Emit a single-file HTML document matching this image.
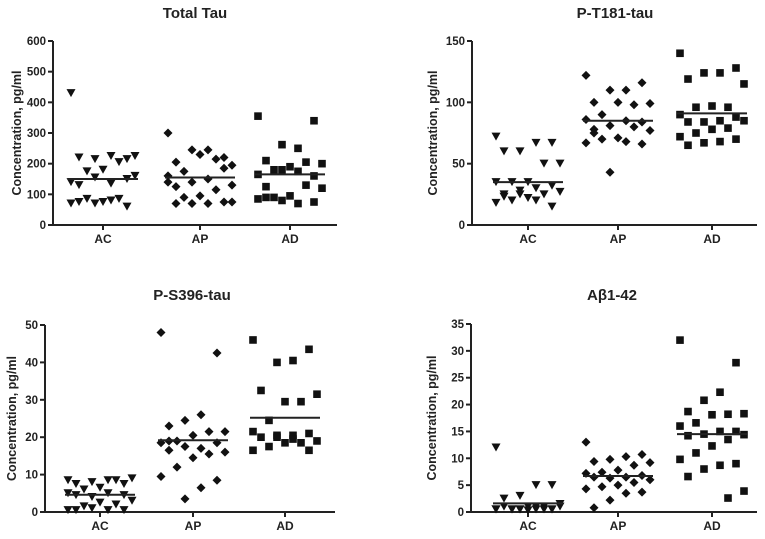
<!DOCTYPE html>
<html><head><meta charset="utf-8"><style>
html,body{margin:0;padding:0;background:#fff;}
svg{display:block;font-family:"Liberation Sans",Arial,sans-serif;}
</style></head><body>
<svg id="c" width="765" height="539"></svg>
<script>
const categories=["AC","AP","AD"];
const titles=["Total Tau","P-T181-tau","P-S396-tau","Aβ1-42"];
const ticks0=[0,100,200,300,400,500,600];
const ticks1=[0,50,100,150];
const ticks2=[0,10,20,30,40,50];
const ticks3=[0,5,10,15,20,25,30,35];
const tt_AC=[430,215,225,215,220,225,205,180,175,140,150,135,155,130,160,85,75,85,70,60,80,70,75];
const tt_AP=[300,220,245,245,205,195,215,230,175,160,185,150,140,125,130,115,95,90,140,75,70,70,70,75];
const tt_AD=[355,340,250,262,210,200,205,190,180,165,160,175,180,125,120,130,95,90,85,75,70,80,90];
const pt_AC=[72,67,67,60,60,50,50,35,35,35,32,30,28,25,27,25,22,20,18,15,20,25,23];
const pt_AP=[122,116,110,110,100,99,98,100,90,86,84,85,81,78,77,80,71,70,67,66,68,43,75];
const pt_AD=[140,128,124,124,119,115,96,97,96,90,88,85,84,84,85,79,78,75,72,70,68,67,65];
const ps_AC=[8.5,7.5,8.5,8,7.5,9,8.5,6.5,6,5,4.5,5,4,4.5,3,2,2.5,1.5,0.5,0.5,0.5,1,0.5];
const ps_AP=[48,42.5,26,24.5,23,21.5,21.5,20.5,19,18.5,18.5,17,17.5,16.5,16,15.5,14.5,12,9.5,8.5,6.5,3.5,19];
const ps_AD=[46,43.5,40.5,40,32.5,31.5,29.5,29.5,24.5,21.5,21,20.5,20,20,19,18.5,18.5,17.5,16.5,16.5,19.5,20.5];
const ab_AC=[12,5,5,3,2.5,1.5,1,1,0.5,0.5,0.5,0.5,0.5,1,1,0.5,0.3,0.5,0.5,0.5,1,0.5];
const ab_AP=[13,10.7,10.3,9.8,9.4,9.2,8.7,7.8,7.4,7.2,6.8,6.5,6.3,6.5,6,5.5,5,4.7,4.3,3.7,3.5,2.2,0.8];
const ab_AD=[32,27.8,22.3,20.8,18.7,18.3,18.2,18.1,16.6,16,15,15,14.5,14.2,14.4,13.5,12.3,11,9.8,9,8.7,8,6.6,3.9,2.6];
const means0=[150,155,165];
const means1=[35,85,91];
const means2=[4.6,19.2,25.2];
const means3=[1.6,6.7,14.5];

const panels=[
 {ax:53,x1:337,y0:225,yt:41,max:600,ticks:ticks0,cx:[103,200,290],title:titles[0],tx:195,ty:18,yl:21,data:[tt_AC,tt_AP,tt_AD],means:means0},
 {ax:472,x1:757,y0:225,yt:41,max:150,ticks:ticks1,cx:[528,618,712],title:titles[1],tx:615,ty:18,yl:437,data:[pt_AC,pt_AP,pt_AD],means:means1},
 {ax:45,x1:335,y0:512,yt:325,max:50,ticks:ticks2,cx:[100,193,285],title:titles[2],tx:192,ty:300,yl:16,data:[ps_AC,ps_AP,ps_AD],means:means2},
 {ax:471,x1:757,y0:512,yt:324,max:35,ticks:ticks3,cx:[528,618,712],title:titles[3],tx:612,ty:300,yl:436,data:[ab_AC,ab_AP,ab_AD],means:means3}
];
const NS="http://www.w3.org/2000/svg";
const svg=document.getElementById('c');
function mk(t,a,p){const e=document.createElementNS(NS,t);for(const k in a)e.setAttribute(k,a[k]);(p||svg).appendChild(e);return e;}
panels.forEach((P,pi)=>{
 const g=mk('g',{});
 
 
 const ys=v=>P.y0-(v/P.max)*(P.y0-P.yt);
 const t=mk('text',{x:P.tx,y:P.ty,'text-anchor':'middle','font-size':15,'font-weight':'bold',fill:'#222'},g);t.textContent=P.title;
 
 
 const ax=mk('path',{d:`M${P.ax},${P.yt}V${P.y0}H${P.x1}`,stroke:'#222','stroke-width':2,fill:'none'},g);
 
 
 P.ticks.forEach(v=>{
  mk('line',{x1:P.ax-5,x2:P.ax,y1:ys(v),y2:ys(v),stroke:'#222','stroke-width':2},g);
  const l=mk('text',{x:P.ax-7,y:ys(v)+4,'text-anchor':'end','font-size':11.5,'font-weight':'bold',fill:'#222'},g);l.textContent=v;
  
  
 });
 const yl=mk('text',{transform:`translate(${P.yl},${(P.y0+P.yt)/2}) rotate(-90)`,'text-anchor':'middle','font-size':12.5,'font-weight':'bold',fill:'#222'},g);
 yl.textContent='Concentration, pg/ml';
 
 
 categories.forEach((c,ci)=>{
  const x=P.cx[ci];
  mk('line',{x1:x,x2:x,y1:P.y0,y2:P.y0+5,stroke:'#222','stroke-width':2},g);
  const l=mk('text',{x:x,y:P.y0+18,'text-anchor':'middle','font-size':12,'font-weight':'bold',fill:'#222'},g);l.textContent=c;
  
  
  P.data[ci].forEach((v,i)=>{
   const jx=x+((i*7)%9-4)*8;const y=ys(v);let m;
   if(ci===0)m=mk('path',{d:`M${jx-4.5},${y-4}H${jx+4.5}L${jx},${y+4}Z`,fill:'#111'},g);
   else if(ci===1)m=mk('path',{d:`M${jx},${y-4.5}L${jx+4.5},${y}L${jx},${y+4.5}L${jx-4.5},${y}Z`,fill:'#111'},g);
   else m=mk('rect',{x:jx-3.8,y:y-3.8,width:7.6,height:7.6,fill:'#111'},g);
   
   
  });
  const ml=mk('line',{x1:x-35,x2:x+35,y1:ys(P.means[ci]),y2:ys(P.means[ci]),stroke:'#222','stroke-width':2},g);
  
  
 });
});
</script>
</body></html>
